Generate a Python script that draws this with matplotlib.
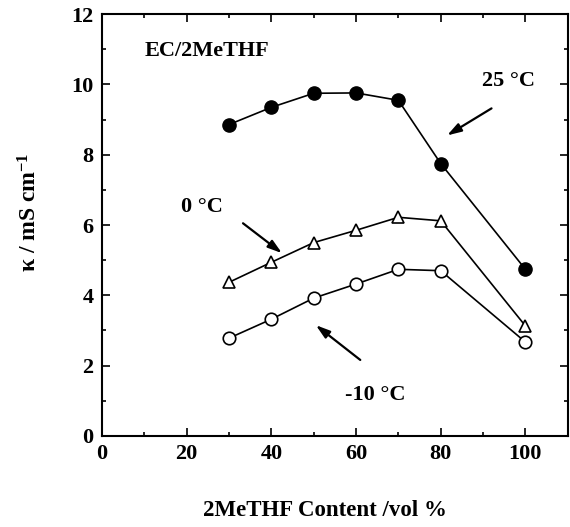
import matplotlib
matplotlib.use("Agg")
import matplotlib.pyplot as plt
from matplotlib.ticker import MultipleLocator

plt.rcParams['font.family'] = ['Liberation Serif', 'DejaVu Serif']
plt.rcParams['font.weight'] = 'bold'
plt.rcParams['mathtext.fontset'] = 'custom'
plt.rcParams['mathtext.rm'] = 'Liberation Serif:bold'
plt.rcParams['mathtext.it'] = 'Liberation Serif:bold'
plt.rcParams['mathtext.bf'] = 'Liberation Serif:bold'

# 2MeTHF content (vol %)
content = [30, 40, 50, 60, 70, 80, 100]
# conductivity, mS/cm
k_25 = [8.86, 9.35, 9.75, 9.76, 9.55, 7.75, 4.74]
k_0 = [4.37, 4.94, 5.50, 5.85, 6.22, 6.12, 3.13]
k_m10 = [2.78, 3.32, 3.92, 4.32, 4.74, 4.70, 2.67]

fig = plt.figure(figsize=(5.7, 5.27), dpi=100)
ax = fig.add_axes([0.179, 0.173, 0.817, 0.800])

ax.plot(content, k_25, '-o', color='black', mfc='black', ms=9.5, lw=1.2)
ax.plot(content, k_0, '-^', color='black', mfc='white', ms=9, mew=1.2, lw=1.2)
ax.plot(content, k_m10, '-o', color='black', mfc='white', ms=9, mew=1.2, lw=1.2)

ax.set_xlim(0, 110)
ax.set_ylim(0, 12)
ax.xaxis.set_major_locator(MultipleLocator(20))
ax.xaxis.set_minor_locator(MultipleLocator(10))
ax.yaxis.set_major_locator(MultipleLocator(2))
ax.yaxis.set_minor_locator(MultipleLocator(1))
ax.tick_params(which='both', direction='in', top=True, right=True, width=1.2)
ax.tick_params(which='major', length=6, labelsize=16, pad=6)
ax.tick_params(which='minor', length=3)
for lab in ax.get_xticklabels() + ax.get_yticklabels():
    lab.set_fontweight('bold')
for s in ax.spines.values():
    s.set_linewidth(1.5)

ax.set_xlabel('2MeTHF Content /vol %', fontsize=16.5, fontweight='bold')
ax.xaxis.set_label_coords(0.478, -0.152)
ax.set_ylabel(r'κ / mS cm$^{\mathbf{-1}}$', fontsize=17, fontweight='bold')
ax.yaxis.set_label_coords(-0.13, 0.53)

ax.text(10, 10.95, 'EC/2MeTHF', fontsize=16, fontweight='bold', va='center')
ax.text(96, 10.1, '25 °C', fontsize=16, fontweight='bold', va='center', ha='center')
ax.text(23.5, 6.5, '0 °C', fontsize=16, fontweight='bold', va='center', ha='center')
ax.text(64.5, 1.16, '-10 °C', fontsize=16, fontweight='bold', va='center', ha='center')

arrow = dict(arrowstyle='-|>,head_length=0.7,head_width=0.22', color='black',
             lw=1.6, mutation_scale=12, shrinkA=0, shrinkB=0)
ax.annotate('', xy=(81.5, 8.55), xytext=(92, 9.32), arrowprops=arrow)
ax.annotate('', xy=(42.5, 5.2), xytext=(33.3, 6.05), arrowprops=arrow)
ax.annotate('', xy=(50.5, 3.15), xytext=(61, 2.16), arrowprops=arrow)

fig.savefig('out.png', dpi=100)
